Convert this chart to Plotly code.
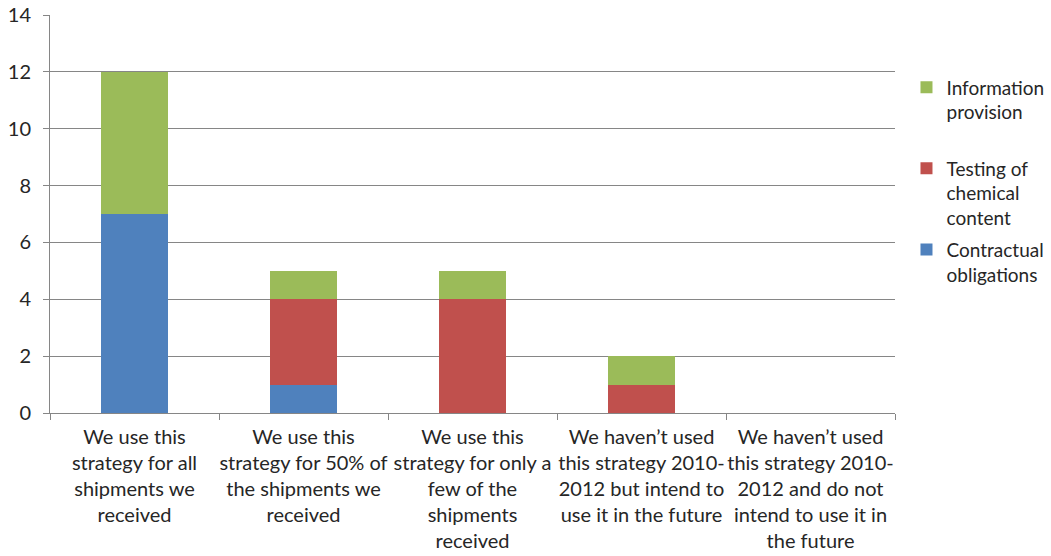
import plotly.graph_objects as go

categories = [
    "We use this<br>strategy for all<br>shipments we<br>received",
    "We use this<br>strategy for 50% of<br>the shipments we<br>received",
    "We use this<br>strategy for only a<br>few of the<br>shipments<br>received",
    "We haven\u2019t used<br>this strategy 2010-<br>2012 but intend to<br>use it in the future",
    "We haven\u2019t used<br>this strategy 2010-<br>2012 and do not<br>intend to use it in<br>the future",
]
contractual = [7, 1, 0, 0, 0]
testing = [0, 3, 4, 1, 0]
information = [5, 1, 1, 1, 0]

series_names = [
    "Contractual<br>obligations",
    "Testing of<br>chemical<br>content",
    "Information<br>provision<br> ",
]
colors = ["#4F81BD", "#C0504D", "#9BBB59"]
ranks = [3000, 2000, 1000]

fig = go.Figure()
for i, (name, vals, col) in enumerate(zip(series_names, [contractual, testing, information], colors)):
    fig.add_trace(go.Bar(x=categories, y=vals, name=name, marker_color=col,
                         marker_line_width=0, width=0.4, legendgroup=f"g{i}",
                         legendrank=ranks[i]))

font = dict(family="Lato, 'Open Sans', sans-serif", size=20, color="#262626")
legend_font = dict(family="Lato, 'Open Sans', sans-serif", size=19, color="#262626")
fig.update_layout(
    barmode="stack",
    width=1051, height=556,
    margin=dict(l=50, r=156, t=15, b=143, autoexpand=False),
    paper_bgcolor="white", plot_bgcolor="white",
    font=font,
    showlegend=True,
    legend=dict(traceorder="grouped", xref="container", x=0.8625, xanchor="left",
                yref="container", y=0.877, yanchor="top",
                valign="top", font=legend_font, itemwidth=30, tracegroupgap=4,
                bgcolor="rgba(0,0,0,0)"),
    xaxis=dict(showline=True, linecolor="#868686", linewidth=1, ticks="outside",
               tickson="boundaries", ticklen=6, tickcolor="#868686",
               showgrid=False, tickangle=0, tickfont=font, automargin=False,
               ticklabelstandoff=6),
    yaxis=dict(range=[0, 14], dtick=2, showline=True, linecolor="#868686", linewidth=1,
               ticks="outside", ticklen=6, tickcolor="#868686", gridcolor="#868686",
               gridwidth=1, zeroline=False, tickfont=font, ticklabelstandoff=8,
               automargin=False),
)
fig.write_html("out.html")
